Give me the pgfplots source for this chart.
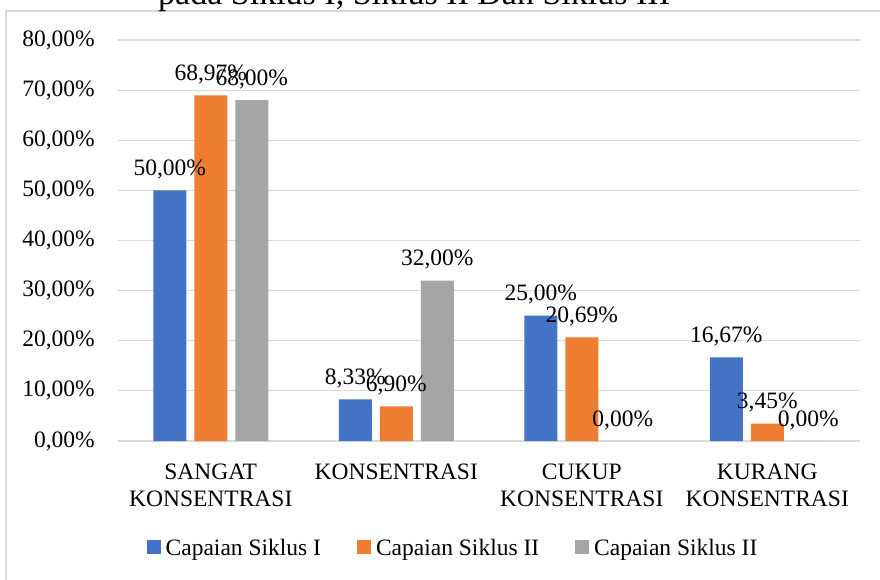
\documentclass[border=0pt]{standalone}
\usepackage{pgfplots}
\pgfplotsset{compat=1.18}
\usepackage{fontspec}
\setmainfont{Liberation Serif}
\definecolor{cblue}{HTML}{4472C4}
\definecolor{corange}{HTML}{ED7D31}
\definecolor{cgray}{HTML}{A5A5A5}
\definecolor{cgrid}{HTML}{D9D9D9}
\newcommand{\cf}{\fontsize{23.5}{27}\selectfont}
\begin{document}
\begin{tikzpicture}[x=1pt,y=1pt]
\useasboundingbox (0,0) rectangle (880,579);
\clip (0,0) rectangle (880,579);
\draw[cgrid, line width=1.5pt] (6,-10) rectangle (900,568);
\node[anchor=base west, font=\fontsize{34}{40}\selectfont, inner sep=0] at (158,574) {pada Siklus I, Siklus II Dan Siklus III};
\begin{axis}[
  at={(118pt,138pt)}, anchor=south west,
  scale only axis, width=742pt, height=401pt,
  xmin=-0.5, xmax=3.5, ymin=0, ymax=80,
  ybar=8pt, bar width=33pt,
  axis line style={draw=none},
  major tick length=0pt, tick style={draw=none},
  ymajorgrids, grid style={cgrid, line width=1.2pt},
  ytick={0,10,20,30,40,50,60,70,80},
  yticklabels={{0,00\%},{10,00\%},{20,00\%},{30,00\%},{40,00\%},{50,00\%},{60,00\%},{70,00\%},{80,00\%}},
  yticklabel style={font=\cf, anchor=east, inner sep=0pt, xshift=-23pt},
  xtick={0,1,2,3},
  xticklabels={{SANGAT\\KONSENTRASI},{KONSENTRASI},{CUKUP\\KONSENTRASI},{KURANG\\KONSENTRASI}},
  xticklabel style={font=\cf, align=center, anchor=north, inner sep=0pt, yshift=-23pt},
  nodes near coords={\pgfmathprintnumber[fixed,fixed zerofill,precision=2,use comma,assume math mode=true]{\pgfplotspointmeta}\%},
  nodes near coords style={font=\cf, anchor=base, inner sep=0pt, yshift=15pt},
  legend style={at={(0.4515,-0.2668)}, anchor=center, draw=none, font=\cf, legend columns=3,
    /tikz/every even column/.append style={column sep=34pt}},
  legend image code/.code={\fill[#1] (0pt,-6pt) rectangle (14pt,8pt); \path (17pt,0pt);},
  clip=false,
]
\addplot[fill=cblue, draw=none] coordinates {(0,50.00) (1,8.33) (2,25.00) (3,16.67)};
\addplot[fill=corange, draw=none] coordinates {(0,68.97) (1,6.90) (2,20.69) (3,3.45)};
\addplot[fill=cgray, draw=none] coordinates {(0,68.00) (1,32.00) (2,0.00) (3,0.00)};
\legend{Capaian Siklus I, Capaian Siklus II, Capaian Siklus II}
\end{axis}
\end{tikzpicture}
\end{document}
